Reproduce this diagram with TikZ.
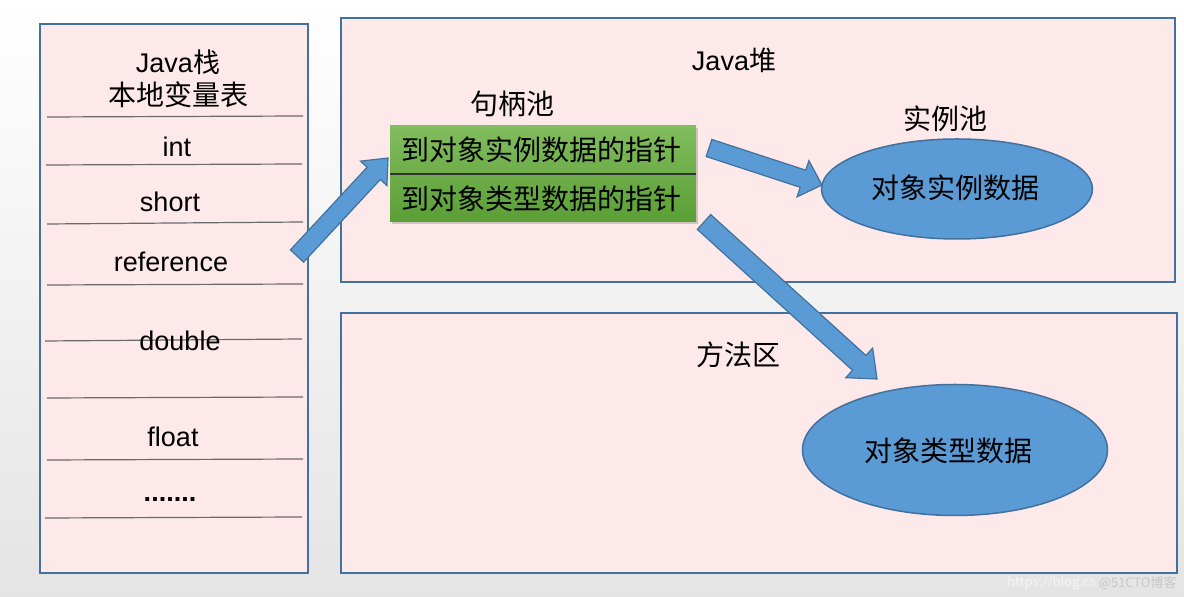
\documentclass[tikz,border=0pt]{standalone}
\usepackage{fontspec}
\setmainfont{Liberation Sans}
\newfontfamily\cjk{Noto Sans CJK SC}
\usetikzlibrary{calc,shadows,shapes.geometric}
\definecolor{panelborder}{HTML}{41719C}
\definecolor{panelfill}{HTML}{FDE9EA}
\definecolor{blobfill}{HTML}{5B9BD5}
\definecolor{sepgray}{HTML}{6A6A6A}
\definecolor{bggray}{HTML}{E4E4E4}
\definecolor{greentop}{HTML}{82BD5E}
\definecolor{greenbot}{HTML}{5A9E35}
\newcommand\blockarrow[5]{%
  \coordinate (hb) at ($(#2)!#5!(#1)$);
  \filldraw[arrowstyle]
    ($(#1)!#3!90:(#2)$) -- ($(hb)!#3!90:(#2)$) -- ($(hb)!#4!90:(#2)$) --
    (#2) -- ($(hb)!#4!-90:(#2)$) -- ($(hb)!#3!-90:(#2)$) --
    ($(#1)!#3!-90:(#2)$) -- cycle;}
\begin{document}
\begin{tikzpicture}[x=0.5pt,y=-0.5pt,
  panel/.style={draw=panelborder,fill=panelfill,line width=0.75pt},
  sepline/.style={draw=sepgray,line width=0.6pt},
  lbl/.style={font=\fontsize{13.5}{16}\selectfont,inner sep=0pt},
  clbl/.style={font=\cjk\fontsize{14}{16}\selectfont,inner sep=0pt},
  blob/.style={ellipse,draw=panelborder,fill=blobfill,line width=0.75pt,inner sep=0pt},
  arrowstyle/.style={fill=blobfill,draw=panelborder,line width=0.6pt,line join=miter},
  wm/.style={font=\cjk\fontsize{6.5}{8}\selectfont,inner sep=0pt}]
\useasboundingbox (0,0) rectangle (1184,597);
\shade[top color=white,bottom color=bggray] (0,0) rectangle (1184,597);

% left panel: Java stack
\draw[panel] (40,24) rectangle (308,573);
\node[lbl] (stk) at (178,62) {Java{\cjk 栈}};
\node[clbl] (lvt) at (178,95) {本地变量表};
\draw[sepline] (47,117) -- (303,116);
\draw[sepline] (46,165) -- (302,164);
\draw[sepline] (47,224) -- (303,222);
\draw[sepline] (47,285) -- (303,284);
\draw[sepline] (45,341) -- (302,339);
\draw[sepline] (47,398) -- (303,397);
\draw[sepline] (47,460) -- (303,459);
\draw[sepline] (45,518) -- (302,517);
\node[lbl] (vint) at (177,147) {int};
\node[lbl] (vshort) at (170,202) {short};
\node[lbl] (vref) at (171,262) {reference};
\node[lbl] (vdouble) at (180,341) {double};
\node[lbl] (vfloat) at (173,437) {float};
\node[lbl] (vdots) at (170,499) {\textbf{.......}};

% Java heap
\draw[panel] (341,18) rectangle (1175,282);
\node[lbl] (heap) at (734,60) {Java{\cjk 堆}};
\node[clbl] (hpool) at (512,104) {句柄池};
\node[clbl] (ipool) at (945,119) {实例池};

% handle pool box
\shade[top color=greentop,bottom color=greenbot,drop shadow={opacity=0.35,shadow xshift=1.2pt,shadow yshift=-1.2pt}]
  (390,126) rectangle (696,222);
\draw[black!80,line width=0.6pt] (390,174) -- (696,174);
\node[clbl,anchor=west] (ptr1) at (401,150) {到对象实例数据的指针};
\node[clbl,anchor=west] (ptr2) at (401,199) {到对象类型数据的指针};

\node[blob,minimum width=135.5pt,minimum height=50pt] (inst) at (957,189) {};
\node[clbl] (instt) at (955,188) {对象实例数据};

% method area
\draw[panel] (341,313) rectangle (1177,573);
\node[clbl] (marea) at (738,355) {方法区};
\node[blob,minimum width=152.5pt,minimum height=65.5pt] (type) at (955,450) {};
\node[clbl] (typet) at (948,451) {对象类型数据};

% block arrows
\coordinate (a1s) at (297,256);
\coordinate (a1e) at (388,158);
\coordinate (a2s) at (709,148);
\coordinate (a2e) at (822,185);
\coordinate (a3s) at (704,222);
\coordinate (a3e) at (877,379);
\blockarrow{a1s}{a1e}{4.5pt}{9pt}{10.5pt}
\blockarrow{a2s}{a2e}{4.5pt}{9.5pt}{10pt}
\blockarrow{a3s}{a3e}{5pt}{10pt}{12pt}

% watermark
\node[wm,text=white!96!black,anchor=east] (wm1) at (1096,583) {https://blog.cs};
\node[wm,text=black!22,anchor=east] (wm2) at (1177,583) {@51CTO博客};
\end{tikzpicture}
\end{document}
